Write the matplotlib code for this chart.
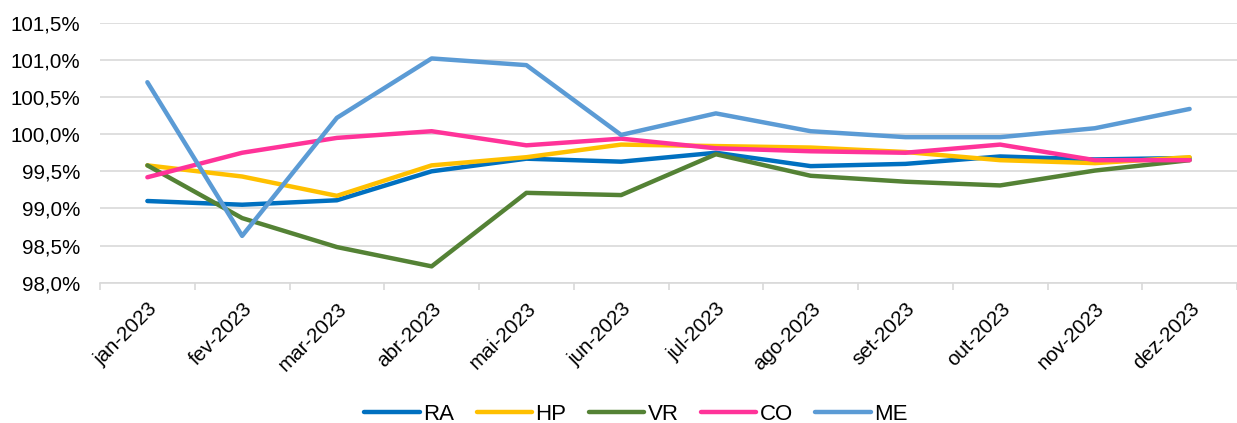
import matplotlib
matplotlib.use("Agg")
import matplotlib.pyplot as plt
import numpy as np
from matplotlib.ticker import FuncFormatter

months = ["jan-2023", "fev-2023", "mar-2023", "abr-2023", "mai-2023", "jun-2023",
          "jul-2023", "ago-2023", "set-2023", "out-2023", "nov-2023", "dez-2023"]
RA = [99.10, 99.05, 99.11, 99.50, 99.67, 99.63, 99.75, 99.57, 99.60, 99.70, 99.66, 99.68]
HP = [99.58, 99.43, 99.17, 99.58, 99.69, 99.86, 99.84, 99.82, 99.76, 99.65, 99.61, 99.69]
VR = [99.58, 98.87, 98.48, 98.22, 99.21, 99.18, 99.73, 99.44, 99.36, 99.31, 99.51, 99.65]
CO = [99.42, 99.75, 99.95, 100.04, 99.85, 99.94, 99.81, 99.77, 99.75, 99.86, 99.65, 99.65]
ME = [100.70, 98.63, 100.22, 101.02, 100.93, 99.99, 100.28, 100.04, 99.96, 99.96, 100.08, 100.34]

series = [("RA", RA, "#0070C0"), ("HP", HP, "#FFC000"), ("VR", VR, "#548235"),
          ("CO", CO, "#FF3399"), ("ME", ME, "#5B9BD5")]

plt.rcParams['font.family'] = ['Liberation Sans', 'DejaVu Sans']

fig = plt.figure(figsize=(12.37, 4.23), dpi=100)
ax = fig.add_axes([100/1237, (423-282.7)/423, 1 - 100/1237, (282.7-22.8)/423])

x = np.arange(len(months))
for name, vals, col in series:
    ax.plot(x, vals, color=col, lw=3.2, label=name, solid_capstyle='round', solid_joinstyle='round')

ax.set_ylim(98.0, 101.5)
ax.set_yticks(np.arange(98.0, 101.51, 0.5))
ax.yaxis.set_major_formatter(FuncFormatter(lambda v, p: f"{v:.1f}%".replace(".", ",")))
ax.set_xlim(-0.5, 1137/95.3 - 0.5)
ax.set_xticks(x)
ax.set_xticklabels(months, rotation=45, ha='right', rotation_mode='anchor')
ax.set_xticks(np.arange(-0.5, 12, 1), minor=True)
ax.tick_params(axis='x', which='major', length=0, pad=12, labelsize=14.8, colors='#000000')
ax.tick_params(axis='x', which='minor', length=5, color='#D9D9D9', width=1.2)
ax.tick_params(axis='y', length=0, labelsize=14.8, pad=14)

ax.grid(axis='y', color='#D9D9D9', lw=1.2)
ax.set_axisbelow(True)
for s in ['top', 'right', 'left']:
    ax.spines[s].set_visible(False)
ax.spines['bottom'].set_color('#D9D9D9')
ax.spines['bottom'].set_linewidth(1.2)

fig.legend(loc='center', bbox_to_anchor=(636/1237, 1 - 414/423), ncol=5, frameon=False,
           fontsize=16, handlelength=2.5, columnspacing=1.0, handletextpad=0.15,
           borderpad=0)

fig.savefig("out.png", dpi=100)
